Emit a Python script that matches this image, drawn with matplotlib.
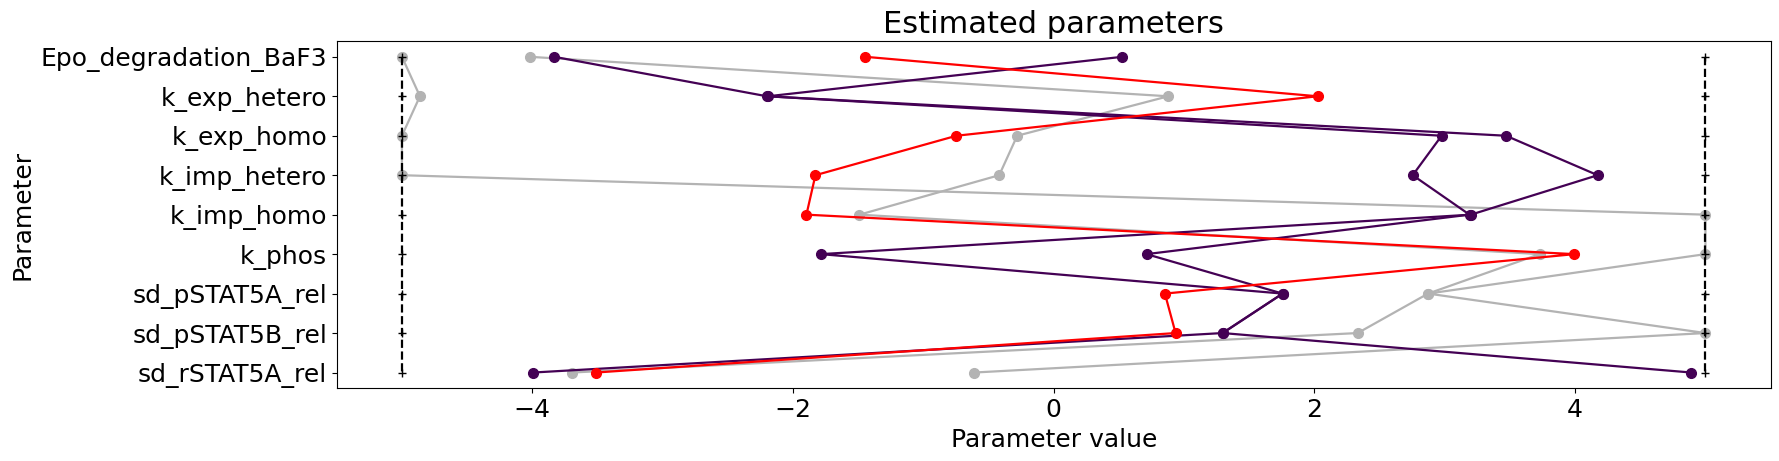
import matplotlib
matplotlib.use("Agg")
import matplotlib.pyplot as plt
import numpy as np

params = ["Epo_degradation_BaF3", "k_exp_hetero", "k_exp_homo", "k_imp_hetero",
          "k_imp_homo", "k_phos", "sd_pSTAT5A_rel", "sd_pSTAT5B_rel", "sd_rSTAT5A_rel"]

lb = [-5] * 9
ub = [5] * 9

grey_1 = [-5.0, -4.862, -5.0, -5.0, 5.0, 5.0, 2.872, 5.0, -0.608]
grey_2 = [-4.018, 0.879, -0.280, -0.418, -1.490, 3.728, 2.872, 2.332, -3.693]
purple_1 = [0.526, -2.193, 2.976, 2.754, 3.19, 0.712, 1.756, 1.296, 4.89]
purple_2 = [-3.831, -2.20, 3.470, 4.173, 3.20, -1.787, 1.756, 1.296, -3.992]
red_1 = [-1.444, 2.025, -0.746, -1.828, -1.897, 3.995, 0.853, 0.935, -3.511]

series = [(grey_1, "#b3b3b3"), (grey_2, "#b3b3b3"),
          (purple_1, "#440154"), (purple_2, "#440154"),
          (red_1, "#ff0000")]

fig = plt.figure(figsize=(17.79, 4.61), dpi=100)
ax = fig.add_axes([0.1893, 0.1577, 0.806, 0.7533])

y = np.arange(len(params))
for vals, c in series:
    ax.plot(vals, y, "o-", color=c, lw=1.6, ms=7)

ax.plot(lb, y, "k+--", lw=1.6, ms=6)
ax.plot(ub, y, "k+--", lw=1.6, ms=6)

ax.set_yticks(y)
ax.set_yticklabels(params)
ax.invert_yaxis()
ax.tick_params(labelsize=18)
ax.set_xlabel("Parameter value", fontsize=18)
ax.set_ylabel("Parameter", fontsize=18)
ax.set_title("Estimated parameters", fontsize=22)

fig.savefig("out.png", dpi=100)
